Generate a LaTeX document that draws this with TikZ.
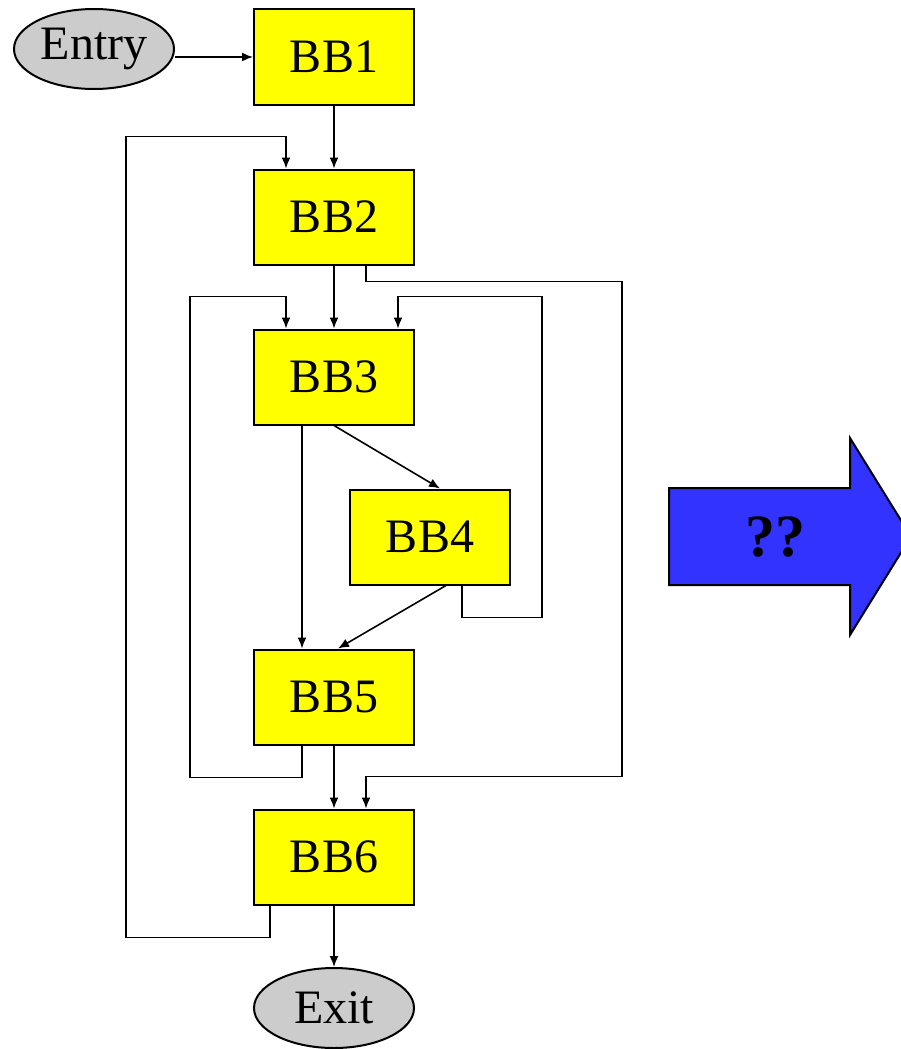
\documentclass[tikz,border=0pt]{standalone}
\usepackage{fontspec}
\setmainfont{Liberation Serif}
\usetikzlibrary{arrows.meta, shapes.geometric}
\definecolor{bbyellow}{HTML}{FFFF00}
\definecolor{endgray}{HTML}{CCCCCC}
\definecolor{arrowblue}{HTML}{3333FF}

\begin{document}
\begin{tikzpicture}[
    ->, >={Latex[length=11pt,width=9pt]}, node distance=160pt, line width=1.6pt,
    every node/.style={draw, align=center, line width=2pt, font=\fontsize{48pt}{48pt}\selectfont},
    block/.style={rectangle, fill=bbyellow, minimum width=160pt, minimum height=95pt},
    terminal/.style={ellipse, fill=endgray, minimum width=160pt, minimum height=80pt, inner sep=0pt}
]
\useasboundingbox (0,0) rectangle (901pt,-1049pt);

\node (bb1) [block] at (334pt,-57pt) {BB1};
\node (entry) [terminal, left of=bb1, xshift=-80pt, yshift=8pt] {Entry};
\node (bb2) [block, below of=bb1] {BB2};
\node (bb3) [block, below of=bb2] {BB3};
\node (bb4) [block, below of=bb3, xshift=96pt] {BB4};
\node (bb5) [block, below of=bb4, xshift=-96pt] {BB5};
\node (bb6) [block, below of=bb5] {BB6};
\node (exit) [terminal, below of=bb6, yshift=9pt] {Exit};

% the big arrow on the right
\draw[-, line width=2pt, fill=arrowblue] (669pt,-488pt) -- (850pt,-488pt) -- (850pt,-438pt) -- (911pt,-536.5pt)
    -- (850pt,-635pt) -- (850pt,-585pt) -- (669pt,-585pt) -- cycle;
\node (qq) [draw=none, font=\fontsize{60pt}{60pt}\selectfont\bfseries] at (775pt,-537pt) {??};

\draw[->] (entry.east |- bb1.west) -- (bb1.west);
\draw[->] (bb1) -- (bb2);
\draw[->] ([xshift=-64pt]bb6.south) -- ++(0,-32pt) -- ++(-144pt,0) |- ([xshift=-48pt,yshift=32pt]bb2.north) -- ([xshift=-48pt]bb2.north);
\draw[->] (bb2) -- (bb3);
\draw[->] ([xshift=32pt]bb2.south) -- ++(0,-16pt) -- ++(256pt,0) |- ([xshift=32pt,yshift=32pt]bb6.north) -- ([xshift=32pt]bb6.north);
\draw[->] ([xshift=-32pt]bb5.south) -- ++(0,-32pt) -- ++(-112pt,0) |- ([xshift=-48pt,yshift=32pt]bb3.north) -- ([xshift=-48pt]bb3.north);
\draw[->] ([xshift=32pt]bb4.south) -- ++(0,-32pt) -- ++(80pt,0) |- ([xshift=64pt,yshift=32pt]bb3.north) -- ([xshift=64pt]bb3.north);
\draw[->] (bb3.south) -- ([xshift=10pt]bb4.north);
\draw[->] ([xshift=-32pt]bb3.south) -- ([xshift=-32pt]bb5.north);
\draw[->] ([xshift=16pt]bb4.south) -- ([xshift=4pt]bb5.north);
\draw[->] (bb5) -- (bb6);
\draw[->] (bb6) -- (exit);
\end{tikzpicture}
\end{document}
